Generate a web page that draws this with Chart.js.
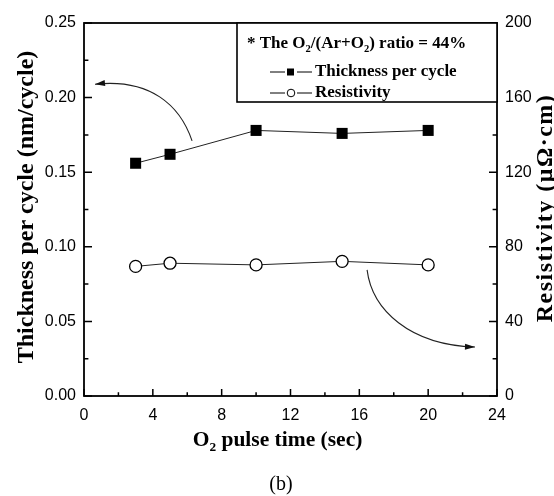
<!DOCTYPE html>
<html>
<head>
<meta charset="utf-8">
<script src="https://cdn.jsdelivr.net/npm/chart.js@4"></script>
<style>
  html, body { margin: 0; padding: 0; background: #fff; }
  #wrap { width: 554px; height: 496px; }
</style>
</head>
<body>
<div id="wrap"><canvas id="chart" width="554" height="496"></canvas></div>
<script>
const pulseTime = [3, 5, 10, 15, 20];
const thickness = [0.156, 0.162, 0.178, 0.176, 0.178];
const resistivity = [69.5, 71.2, 70.3, 72.2, 70.3];

const xTicks = [0, 4, 8, 12, 16, 20, 24];
const yTicks = [0, 0.05, 0.10, 0.15, 0.20, 0.25];
const y1Ticks = [0, 40, 80, 120, 160, 200];

const seriesNames = ["Thickness per cycle", "Resistivity"];

// annotation arrows, in data units of the left axis: start, c1, c2, end
const arrowLeft = [[6.28, 0.171], [5.58, 0.195], [3.84, 0.213], [0.64, 0.209]];
const arrowRight = [[16.45, 0.0845], [16.74, 0.0576], [18.94, 0.0342], [22.72, 0.0328]];

const SERIF = "'Liberation Serif', 'Times New Roman', serif";
const SANS = "'Liberation Sans', Arial, sans-serif";

function drawArrow(ctx, pts, sx, sy) {
  const p = pts.map(q => [sx.getPixelForValue(q[0]), sy.getPixelForValue(q[1])]);
  ctx.beginPath();
  ctx.moveTo(p[0][0], p[0][1]);
  ctx.bezierCurveTo(p[1][0], p[1][1], p[2][0], p[2][1], p[3][0], p[3][1]);
  ctx.stroke();
  const ang = Math.atan2(p[3][1] - p[2][1], p[3][0] - p[2][0]);
  const L = 10, W = 3;
  ctx.beginPath();
  ctx.moveTo(p[3][0], p[3][1]);
  ctx.lineTo(p[3][0] - L * Math.cos(ang) + W * Math.sin(ang), p[3][1] - L * Math.sin(ang) - W * Math.cos(ang));
  ctx.lineTo(p[3][0] - L * Math.cos(ang) - W * Math.sin(ang), p[3][1] - L * Math.sin(ang) + W * Math.cos(ang));
  ctx.closePath();
  ctx.fill();
}

// text pieces: [string, isSub]
function drawRich(ctx, parts, x, y, size, weight, align) {
  const total = parts.reduce((s, p) => {
    ctx.font = `${weight} ${p[1] ? size * 0.62 : size}px ${SERIF}`;
    return s + ctx.measureText(p[0]).width;
  }, 0);
  let cx = align === "center" ? x - total / 2 : x;
  ctx.textAlign = "left";
  ctx.textBaseline = "alphabetic";
  parts.forEach(p => {
    ctx.font = `${weight} ${p[1] ? size * 0.62 : size}px ${SERIF}`;
    ctx.fillText(p[0], cx, p[1] ? y + size * 0.22 : y);
    cx += ctx.measureText(p[0]).width;
  });
}

const framePlugin = {
  id: "frame",
  afterDraw(chart) {
    const ctx = chart.ctx;
    const a = chart.chartArea;
    const sx = chart.scales.x, sy = chart.scales.y, sy1 = chart.scales.y1;
    ctx.save();
    ctx.strokeStyle = "#000";
    ctx.fillStyle = "#000";

    // inward ticks (major from scale ticks, minor halfway)
    ctx.lineWidth = 1.5;
    const tick = (scale, len, draw) => {
      const t = scale.ticks.map(k => k.value);
      t.forEach((v, i) => {
        draw(scale.getPixelForValue(v), len);
        if (i < t.length - 1) draw(scale.getPixelForValue((v + t[i + 1]) / 2), len * 0.55);
      });
    };
    ctx.beginPath();
    tick(sx, 7, (p, l) => { ctx.moveTo(p, a.bottom); ctx.lineTo(p, a.bottom - l); });
    tick(sy, 8, (p, l) => { ctx.moveTo(a.left, p); ctx.lineTo(a.left + l, p); });
    tick(sy1, 8, (p, l) => { ctx.moveTo(a.right, p); ctx.lineTo(a.right - l, p); });
    ctx.stroke();

    ctx.lineWidth = 1.8;
    ctx.strokeRect(a.left, a.top, a.right - a.left, a.bottom - a.top);

    // arrows
    ctx.lineWidth = 1.1;
    ctx.strokeStyle = "#222";
    ctx.fillStyle = "#111";
    drawArrow(ctx, arrowLeft, sx, sy);
    drawArrow(ctx, arrowRight, sx, sy);

    // legend box
    const lx = 237, ly = a.top, lw = a.right - lx, lh = 79;
    ctx.fillStyle = "#fff";
    ctx.fillRect(lx, ly, lw, lh);
    ctx.strokeStyle = "#000";
    ctx.lineWidth = 1.6;
    ctx.strokeRect(lx, ly, lw, lh);
    ctx.fillStyle = "#000";
    drawRich(ctx, [["* The O", 0], ["2", 1], ["/(Ar+O", 0], ["2", 1], [") ratio = 44%", 0]], 247, ly + 25, 17, "bold", "left");

    const rows = [ly + 49, ly + 70];
    chart.data.datasets.forEach((ds, i) => {
      const yy = rows[i];
      ctx.strokeStyle = "#000";
      ctx.lineWidth = 1;
      ctx.beginPath();
      ctx.moveTo(270, yy); ctx.lineTo(285, yy);
      ctx.moveTo(297, yy); ctx.lineTo(312, yy);
      ctx.stroke();
      ctx.beginPath();
      if (ds.pointStyle === "rect") {
        ctx.fillStyle = "#000";
        ctx.fillRect(287, yy - 3.5, 7, 7);
      } else {
        ctx.fillStyle = "#fff";
        ctx.arc(291, yy, 3.8, 0, Math.PI * 2);
        ctx.fill();
        ctx.stroke();
      }
      ctx.fillStyle = "#000";
      ctx.font = `bold 17px ${SERIF}`;
      ctx.textAlign = "left";
      ctx.textBaseline = "middle";
      ctx.fillText(ds.label, 315, yy);
    });

    // axis titles
    ctx.fillStyle = "#000";
    drawRich(ctx, [["O", 0], ["2", 1], [" pulse time (sec)", 0]], (a.left + a.right) / 2 - 13, 446, 21.5, "bold", "center");

    ctx.save();
    ctx.translate(27, 207);
    ctx.rotate(-Math.PI / 2);
    ctx.font = `bold 24px ${SERIF}`;
    ctx.textAlign = "center";
    ctx.textBaseline = "middle";
    ctx.fillText("Thickness per cycle (nm/cycle)", 0, 0);
    ctx.restore();

    ctx.save();
    ctx.translate(546, 208);
    ctx.rotate(-Math.PI / 2);
    ctx.font = `bold 24px ${SERIF}`;
    ctx.letterSpacing = "1.5px";
    ctx.textAlign = "center";
    ctx.textBaseline = "middle";
    ctx.fillText("Resistivity (\u03BC\u03A9\u00B7cm)", 0, 0);
    ctx.restore();

    ctx.font = `20px ${SERIF}`;
    ctx.textAlign = "center";
    ctx.textBaseline = "middle";
    ctx.fillText("(b)", 281, 485);
    ctx.restore();
  }
};

new Chart(document.getElementById("chart"), {
  type: "scatter",
  data: {
    datasets: [
      {
        label: seriesNames[0],
        data: pulseTime.map((x, i) => ({ x, y: thickness[i] })),
        yAxisID: "y",
        showLine: true,
        borderColor: "#222",
        borderWidth: 1,
        pointStyle: "rect",
        pointRadius: 7.8,
        pointBackgroundColor: "#000",
        pointBorderColor: "#000",
        pointBorderWidth: 0
      },
      {
        label: seriesNames[1],
        data: pulseTime.map((x, i) => ({ x, y: resistivity[i] })),
        yAxisID: "y1",
        showLine: true,
        borderColor: "#222",
        borderWidth: 1,
        pointStyle: "circle",
        pointRadius: 6,
        pointBackgroundColor: "#fff",
        pointBorderColor: "#000",
        pointBorderWidth: 1.3
      }
    ]
  },
  options: {
    responsive: false,
    animation: false,
    layout: { padding: { top: 23, left: 0, right: 0, bottom: 0 } },
    plugins: { legend: { display: false }, tooltip: { enabled: false } },
    scales: {
      x: {
        type: "linear",
        min: xTicks[0],
        max: xTicks[xTicks.length - 1],
        afterBuildTicks: s => { s.ticks = xTicks.map(v => ({ value: v })); },
        afterFit: s => { s.height = 100; },
        grid: { display: false },
        border: { display: false },
        ticks: { color: "#000", font: { family: SANS, size: 16 }, padding: 2, maxRotation: 0 }
      },
      y: {
        position: "left",
        min: yTicks[0],
        max: yTicks[yTicks.length - 1],
        afterBuildTicks: s => { s.ticks = yTicks.map(v => ({ value: v })); },
        afterFit: s => { s.width = 84; },
        grid: { display: false },
        border: { display: false },
        ticks: { color: "#000", font: { family: SANS, size: 16 }, padding: 0, callback: v => v.toFixed(2) }
      },
      y1: {
        position: "right",
        min: y1Ticks[0],
        max: y1Ticks[y1Ticks.length - 1],
        afterBuildTicks: s => { s.ticks = y1Ticks.map(v => ({ value: v })); },
        afterFit: s => { s.width = 57; },
        grid: { display: false },
        border: { display: false },
        ticks: { color: "#000", font: { family: SANS, size: 16 }, padding: 0 }
      }
    }
  },
  plugins: [framePlugin]
});
</script>
</body>
</html>
